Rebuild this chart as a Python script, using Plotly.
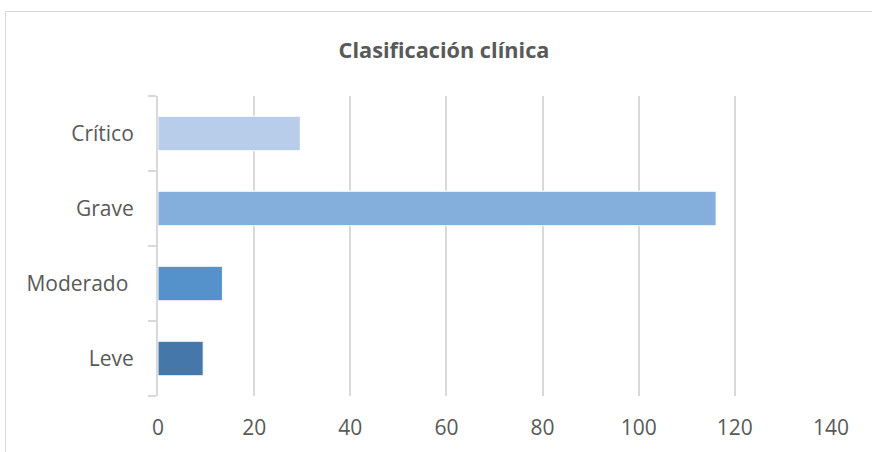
import plotly.graph_objects as go

categories = ["Leve", "Moderado ", "Grave", "Crítico"]
values = [9.4, 13.4, 116.1, 29.6]
colors = ["#4677AA", "#5592CB", "#84AEDC", "#B7CDE9"]
x_ticks = [0, 20, 40, 60, 80, 100, 120, 140]

FONT = "Open Sans, Noto Sans, sans-serif"

fig = go.Figure()
fig.add_trace(go.Bar(
    y=categories, x=values, orientation="h",
    marker=dict(color=colors, line=dict(color="white", width=1)),
    width=0.46,
))

L, R, T, B = 158, 41, 96, 56
W, H = 872, 452
pw, ph = W - L - R, H - T - B

fig.update_layout(
    width=W, height=H,
    margin=dict(l=L, r=R, t=T, b=B, pad=0),
    paper_bgcolor="white", plot_bgcolor="white",
    showlegend=False,
    font=dict(family=FONT, color="#595959", size=21),
    title=dict(text="<b>Clasificación clínica</b>", x=444 / W, xanchor="center",
               y=1 - 50 / H, yanchor="middle",
               font=dict(size=21.7, color="#595959", family=FONT)),
    xaxis=dict(range=[0, 140], tickvals=x_ticks, showgrid=True, gridcolor="#D9D9D9",
               gridwidth=1.5, zeroline=False, showline=False, ticks="",
               tickfont=dict(size=21, color="#595959", family=FONT), ticklabelstandoff=17),
    yaxis=dict(showline=True, linecolor="#D9D9D9", linewidth=2, ticks="outside",
               tickson="boundaries", ticklen=8, tickcolor="#D9D9D9", tickwidth=2,
               showgrid=False, tickfont=dict(size=21, color="#595959", family=FONT),
               ticklabelstandoff=18,
               categoryorder="array", categoryarray=categories),
    shapes=[dict(type="rect", xref="paper", yref="paper",
                 x0=(5.5 - L) / pw, x1=(W + 10 - L) / pw,
                 y0=(H - B - (H + 10)) / ph, y1=(H - B - 11.5) / ph,
                 line=dict(color="#D9D9D9", width=1), layer="below")],
)

fig.write_html("out.html", config={"displayModeBar": False},
               post_script="document.body.style.margin='0';document.body.style.padding='0';")
